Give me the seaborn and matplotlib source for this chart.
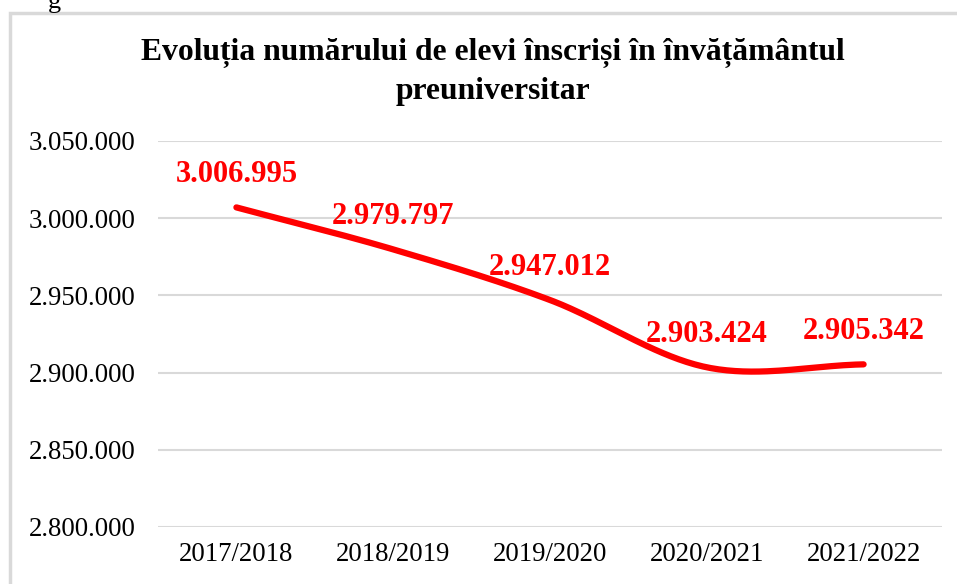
import numpy as np
import pandas as pd
import matplotlib.pyplot as plt
import seaborn as sns
from matplotlib.patches import Rectangle
from matplotlib.ticker import FuncFormatter, MultipleLocator

years = ["2017/2018", "2018/2019", "2019/2020", "2020/2021", "2021/2022"]
students = [3006995, 2979797, 2947012, 2903424, 2905342]
y_ticks = [2800000, 2850000, 2900000, 2950000, 3000000, 3050000]

TITLE = "Evoluția numărului de elevi înscriși în învățământul\npreuniversitar"
SERIF = ["Liberation Serif", "DejaVu Serif"]


def dotted(v, _pos=None):
    """Format numbers with dots as thousand separators"""
    return f"{int(round(v)):,}".replace(",", ".")


def smooth_curve(xs, ys, steps=40):
    """Catmull-Rom style smoothing, similar to the Excel smoothed line"""
    xs = np.asarray(xs, dtype=float)
    ys = np.asarray(ys, dtype=float)
    px = np.concatenate([[2 * xs[0] - xs[1]], xs, [2 * xs[-1] - xs[-2]]])
    py = np.concatenate([[2 * ys[0] - ys[1]], ys, [2 * ys[-1] - ys[-2]]])
    out_x, out_y = [], []
    t = np.linspace(0, 1, steps)
    for i in range(1, len(px) - 2):
        for arr, out in ((px, out_x), (py, out_y)):
            p0, p1, p2, p3 = arr[i - 1], arr[i], arr[i + 1], arr[i + 2]
            c1 = p1 + (p2 - p0) / 6
            c2 = p2 - (p3 - p1) / 6
            seg = ((1 - t) ** 3) * p1 + 3 * ((1 - t) ** 2) * t * c1 \
                + 3 * (1 - t) * t ** 2 * c2 + t ** 3 * p2
            out.extend(seg if i == 1 else seg[1:])
    return np.array(out_x), np.array(out_y)


df = pd.DataFrame({"year": years, "students": students})
df["pos"] = np.arange(len(df))

sx, sy = smooth_curve(df["pos"], df["students"])
curve = pd.DataFrame({"x": sx, "y": sy})

sns.set_theme(style="white")
plt.rcParams["font.family"] = SERIF

fig = plt.figure(figsize=(9.57, 5.84), dpi=100)
ax = fig.add_axes([158 / 957, 1 - 527 / 584, (942 - 158) / 957, (527 - 141) / 584])

# chart frame
fig.patches.append(Rectangle((10 / 957, -0.1), 1.0, 1 - 13 / 584 + 0.1,
                             transform=fig.transFigure, fill=False,
                             edgecolor="#d9d9d9", linewidth=2.5))
fig.text(48 / 957, 1 - 2 / 584, "g", fontsize=19, color="black",
         ha="left", va="center", family=SERIF)

for v in y_ticks:
    ax.axhline(v, color="#d9d9d9", linewidth=1.5, zorder=0)

sns.lineplot(data=curve, x="x", y="y", ax=ax, color="#ff0000",
             linewidth=4.5, sort=False, estimator=None)

for _, row in df.iterrows():
    ax.annotate(dotted(row["students"]), (row["pos"], row["students"]),
                xytext=(0, 33), textcoords="offset pixels",
                ha="center", va="center", color="#ff0000", fontsize=22,
                fontweight="bold", family=SERIF)

ax.set_xlim(-0.5, len(years) - 0.5)
ax.set_ylim(y_ticks[0], y_ticks[-1])
ax.set_xticks(df["pos"])
ax.set_xticklabels(years)
ax.yaxis.set_major_locator(MultipleLocator(50000))
ax.yaxis.set_major_formatter(FuncFormatter(dotted))
ax.tick_params(axis="both", labelsize=19.3, colors="black", length=0)
ax.tick_params(axis="y", pad=16)
ax.tick_params(axis="x", pad=11)
ax.set_xlabel("")
ax.set_ylabel("")
for s in ax.spines.values():
    s.set_visible(False)

fig.text(493 / 957, 1 - 72 / 584, TITLE, ha="center", va="center",
         fontsize=22.8, fontweight="bold", linespacing=1.45, family=SERIF,
         color="black")

fig.savefig("out.png", dpi=100)
